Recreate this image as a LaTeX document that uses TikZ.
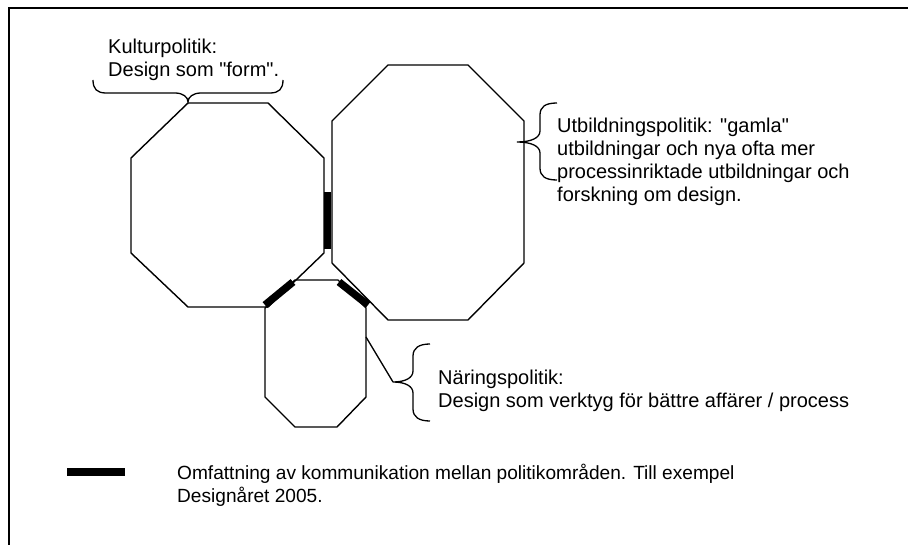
\documentclass[tikz,border=0pt]{standalone}
\usepackage{fontspec}
\setmainfont{Liberation Sans}[Ligatures=TeXOff]
\begin{document}
\begin{tikzpicture}[x=1pt,y=-1pt,
  oct/.style={draw=black,line width=1.4pt,line join=miter},
  comm/.style={draw=black,line width=7.5pt,line cap=butt},
  bracestyle/.style={draw=black,line width=1.3pt},
  frame/.style={draw=black,line width=1.6pt},
  lbl/.style={anchor=north west,inner sep=0pt,align=left,font=\fontsize{20}{23}\selectfont},
  leglbl/.style={lbl,font=\fontsize{19.1}{22.5}\selectfont},
]
\useasboundingbox (0,0) rectangle (908,545);
% frame
\coordinate (fbl) at (9,546);
\coordinate (ftl) at (9,8);
\coordinate (ftr) at (909,8);
\draw[frame] (fbl) -- (ftl) -- (ftr);

% octagon Kulturpolitik
\draw[oct] (188,103) -- (268,103) -- (324,158) -- (324,253) -- (268,307) -- (188,307) -- (131,253) -- (131,158) -- cycle;
% octagon Utbildningspolitik
\draw[oct] (388,65) -- (468,65) -- (524,121) -- (524,263) -- (468,320) -- (388,320) -- (332,263) -- (332,121) -- cycle;
% octagon Naringspolitik
\draw[oct] (295,280) -- (338,280) -- (366,308) -- (366,397) -- (337,427) -- (295,427) -- (265,397) -- (265,308) -- cycle;

% communication bars
\coordinate (v1) at (327.5,192);
\coordinate (v2) at (327.5,249);
\draw[comm] (v1) -- (v2);
\coordinate (d1) at (293,282);
\coordinate (d2) at (265,305);
\draw[comm] (d1) -- (d2);
\coordinate (e1) at (339,282);
\coordinate (e2) at (368,305);
\draw[comm] (e1) -- (e2);

% brace Kulturpolitik
\draw[bracestyle] (93,80) .. controls (93,89) and (97,93) .. (106,93) -- (175,93)
  .. controls (183,93) and (188,97) .. (188,102)
  .. controls (188,97) and (193,93) .. (201,93) -- (270,93)
  .. controls (279,93) and (283,89) .. (283,80);
% brace Utbildningspolitik
\draw[bracestyle] (557,103) .. controls (545,103) and (540,107) .. (540,115) -- (540,131)
  .. controls (540,138) and (531,142) .. (517,142)
  .. controls (531,142) and (540,146) .. (540,153) -- (540,168)
  .. controls (540,176) and (545,180) .. (557,180);
% brace Naringspolitik
\draw[bracestyle] (430,344) .. controls (419,344) and (413,348) .. (413,356) -- (413,371)
  .. controls (413,378) and (405,382) .. (393,382)
  .. controls (405,382) and (413,386) .. (413,393) -- (413,409)
  .. controls (413,417) and (419,421) .. (430,421);
\coordinate (ntip) at (393,382);
\coordinate (cside) at (366,337);
\draw[bracestyle] (ntip) -- (cside);

% labels
\node[lbl] (kultur) at (108,39) {Kulturpolitik:\\Design som "form".};
\node[lbl] (utb) at (557,118) {Utbildningspolitik: "gamla"\\utbildningar och nya ofta mer\\processinriktade utbildningar och\\forskning om design.};
\node[lbl] (nar) at (438,370) {Näringspolitik:\\Design som verktyg för bättre affärer / process};

% legend
\coordinate (l1) at (67,472);
\coordinate (l2) at (125,472);
\draw[comm,line width=8pt] (l1) -- (l2);
\node[leglbl] (leg) at (177,464) {Omfattning av kommunikation mellan politikområden. Till exempel\\Designåret 2005.};
\end{tikzpicture}
\end{document}
